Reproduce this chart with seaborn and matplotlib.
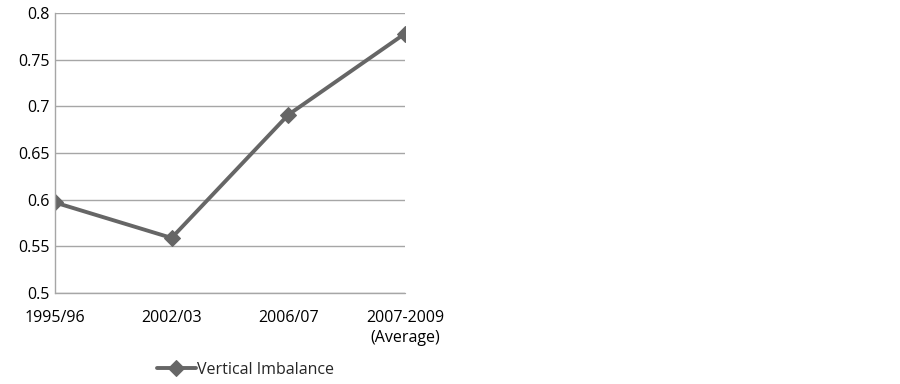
import pandas as pd
import matplotlib.pyplot as plt
import seaborn as sns

# Data
periods = ["1995/96", "2002/03", "2006/07", "2007-2009\n(Average)"]
imbalance = [0.597, 0.559, 0.691, 0.778]
series_name = "Vertical Imbalance"

df = pd.DataFrame({"Period": periods, "Value": imbalance})

sns.set_style("white")
plt.rcParams["font.family"] = ["Open Sans", "DejaVu Sans"]

fig = plt.figure(figsize=(9, 3.84), dpi=100)
ax = fig.add_axes([0.061, 0.237, 0.389, 0.729])

sns.lineplot(x="Period", y="Value", data=df, sort=False, ax=ax,
             color="#666666", linewidth=2.8, marker="D", markersize=8,
             markeredgecolor="#666666", label=series_name, legend=False)

ax.set_xlim(0, len(periods) - 1)
ax.set_ylim(0.5, 0.8)
ax.set_yticks([0.5, 0.55, 0.6, 0.65, 0.7, 0.75, 0.8])
ax.set_yticklabels(["0.5", "0.55", "0.6", "0.65", "0.7", "0.75", "0.8"])
ax.yaxis.grid(True, color="#a6a6a6", linewidth=1)
ax.axhline(0.5, color="#a6a6a6", linewidth=1, clip_on=False, zorder=0.5)
ax.set_axisbelow(True)
ax.tick_params(axis="both", length=0, labelsize=11.5, colors="black")
ax.tick_params(axis="x", pad=12)
ax.tick_params(axis="y", pad=4)
for lbl in ax.get_xticklabels():
    lbl.set_linespacing(1.35)
ax.set_xlabel("")
ax.set_ylabel("")

for side in ["top", "right", "bottom"]:
    ax.spines[side].set_visible(False)
ax.spines["left"].set_color("#a6a6a6")
ax.spines["left"].set_linewidth(1)

handles, labels = ax.get_legend_handles_labels()
fig.legend(handles, labels, loc="center", bbox_to_anchor=(0.273, 0.037),
           frameon=False, fontsize=11.5, handlelength=2.4, handletextpad=0.1)

plt.savefig("out.png", dpi=100)
plt.close()
